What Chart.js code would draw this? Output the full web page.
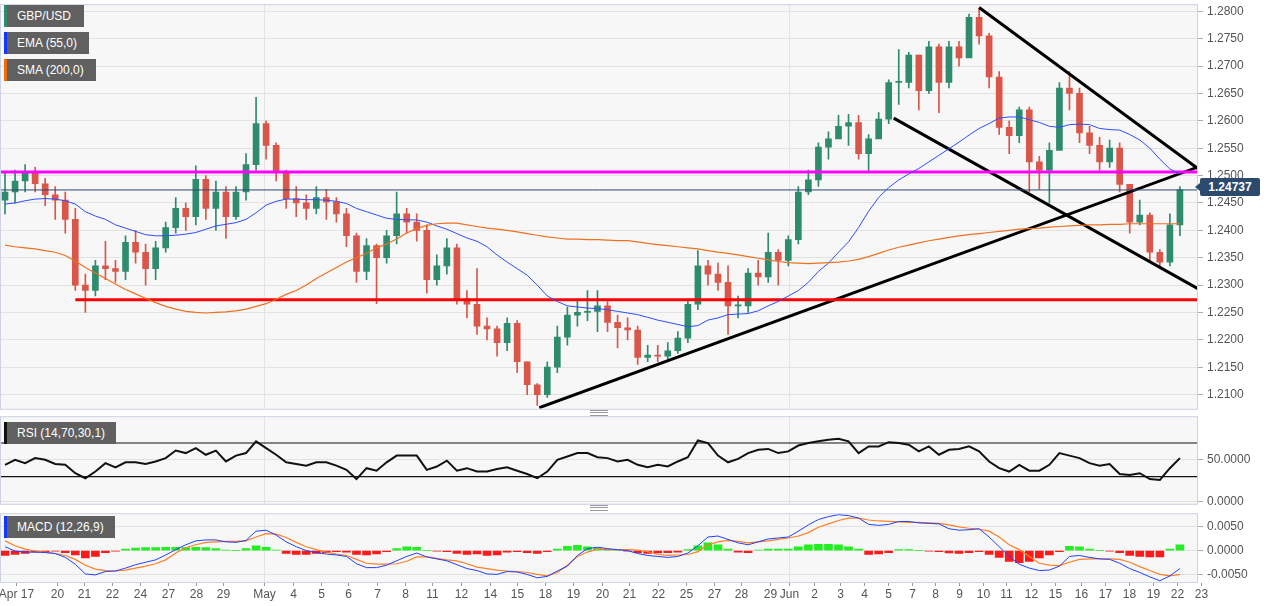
<!DOCTYPE html>
<html>
<head>
<meta charset="utf-8">
<script src="https://cdn.jsdelivr.net/npm/chart.js@4.4.1/dist/chart.umd.min.js"></script>
<style>
  body { margin: 0; background: #fff; font-family: "Liberation Sans", Arial, sans-serif; overflow: hidden; }
  .pane { position: absolute; left: 0; width: 1269px; }
  .tag { position: absolute; left: 4px; height: 22px; line-height: 22px; background: #606060; color: #fff;
         font-size: 12px; padding: 0 10px 0 13px; box-sizing: border-box; }
  .tag i { position: absolute; left: 0; top: 0; bottom: 0; width: 3px; }
  .price { position: absolute; left: 1200px; top: 178px; width: 60px; height: 18px; line-height: 18px;
           background: #2b4a6e; color: #fff; font-size: 12px; font-weight: bold; text-align: center; border-radius: 2px; }
  .price:before { content: ""; position: absolute; left: -5px; top: 5px; border: 4px solid transparent;
                  border-right: 5px solid #2b4a6e; border-left: 0; }
  .grip { position: absolute; left: 590px; width: 18px; height: 4px; border-top: 1px solid #999; border-bottom: 1px solid #999; }
  .grip:after { content: ""; position: absolute; left: 0; right: 0; top: 1px; border-top: 1px solid #999; }
</style>
</head>
<body>
<div class="pane" style="top:-7px;height:427px"><canvas id="main"></canvas></div>
<div class="pane" style="top:405px;height:110px"><canvas id="rsi"></canvas></div>
<div class="pane" style="top:502px;height:106px"><canvas id="macd"></canvas></div>

<div class="tag" style="top:5px;width:80px"><i style="background:#2e8b6e"></i>GBP/USD</div>
<div class="tag" style="top:32px;width:85px"><i style="background:#1238ff"></i>EMA (55,0)</div>
<div class="tag" style="top:59px;width:92px"><i style="background:#f06a10"></i>SMA (200,0)</div>
<div class="tag" style="top:422px;width:112px"><i style="background:#111"></i>RSI (14,70,30,1)</div>
<div class="tag" style="top:516px;width:111px"><i style="background:#1238ff"></i>MACD (12,26,9)</div>
<div class="price">1.24737</div>
<div class="grip" style="top:410px"></div>
<div class="grip" style="top:505px"></div>

<script>
// GBP/USD candles (each slot ~ one 10px column of the original 4h chart)
const closes = [
  1.2470,1.2490,1.2505,1.2485,1.2465,1.2455,1.2420,1.2300,1.2290,1.2335,
  1.2330,1.2325,1.2378,1.2360,1.2330,1.2368,1.2405,1.2440,1.2425,1.2493,
  1.2440,1.2470,1.2425,1.2470,1.2520,1.2595,1.2555,1.2505,1.2458,1.2450,
  1.2440,1.2460,1.2452,1.2430,1.2390,1.2325,1.2372,1.2350,1.2390,1.2430,
  1.2415,1.2400,1.2310,1.2335,1.2368,1.2275,1.2265,1.2225,1.2220,1.2195,
  1.2230,1.2160,1.2118,1.2100,1.2150,1.2205,1.2245,1.2250,1.2252,1.2262,
  1.2232,1.2222,1.2218,1.2168,1.2172,1.2170,1.2180,1.2203,1.2265,1.2335,
  1.2320,1.2305,1.2262,1.2262,1.2322,1.2315,1.2360,1.2345,1.2383,1.2470,
  1.2492,1.2552,1.2567,1.2590,1.2597,1.2540,1.2567,1.2603,1.2670,1.2670,
  1.2720,1.2655,1.2735,1.2670,1.2735,1.2715,1.2789,1.2755,1.2680,1.2588,
  1.2573,1.2620,1.2525,1.2510,1.2546,1.2660,1.2650,1.2578,1.2555,1.2525,
  1.2550,1.2484,1.2415,1.2428,1.2360,1.2342,1.2410,1.2474
];
const highs = [
  1.2505,1.2510,1.2520,1.2515,1.2495,1.2480,1.2470,1.2440,1.2320,1.2345,
  1.2380,1.2345,1.2390,1.2400,1.2375,1.2380,1.2415,1.2460,1.2450,1.2518,
  1.2500,1.2490,1.2480,1.2480,1.2540,1.2643,1.2600,1.2560,1.2510,1.2480,
  1.2465,1.2480,1.2475,1.2460,1.2440,1.2395,1.2385,1.2375,1.2400,1.2470,
  1.2440,1.2430,1.2410,1.2355,1.2385,1.2375,1.2290,1.2330,1.2240,1.2225,
  1.2240,1.2235,1.2160,1.2120,1.2160,1.2225,1.2260,1.2275,1.2290,1.2290,
  1.2270,1.2245,1.2240,1.2225,1.2190,1.2190,1.2195,1.2215,1.2275,1.2363,
  1.2345,1.2340,1.2335,1.2280,1.2330,1.2345,1.2395,1.2365,1.2390,1.2480,
  1.2510,1.2560,1.2580,1.2610,1.2612,1.2610,1.2575,1.2615,1.2675,1.2730,
  1.2725,1.2720,1.2745,1.2740,1.2745,1.2745,1.2795,1.2805,1.2760,1.2690,
  1.2600,1.2625,1.2625,1.2535,1.2560,1.2670,1.2690,1.2660,1.2590,1.2570,
  1.2565,1.2560,1.2480,1.2455,1.2432,1.2365,1.2430,1.2480
];
const lows = [
  1.2430,1.2450,1.2470,1.2470,1.2445,1.2420,1.2395,1.2290,1.2250,1.2280,
  1.2310,1.2305,1.2310,1.2340,1.2300,1.2310,1.2360,1.2395,1.2400,1.2410,
  1.2420,1.2400,1.2385,1.2420,1.2455,1.2510,1.2530,1.2490,1.2440,1.2425,
  1.2420,1.2430,1.2420,1.2415,1.2370,1.2305,1.2310,1.2266,1.2340,1.2375,
  1.2395,1.2380,1.2285,1.2300,1.2320,1.2265,1.2240,1.2210,1.2200,1.2170,
  1.2180,1.2140,1.2100,1.2080,1.2095,1.2140,1.2190,1.2225,1.2235,1.2215,
  1.2215,1.2185,1.2200,1.2155,1.2160,1.2160,1.2165,1.2175,1.2195,1.2255,
  1.2300,1.2290,1.2210,1.2240,1.2250,1.2300,1.2305,1.2300,1.2335,1.2375,
  1.2465,1.2480,1.2530,1.2570,1.2555,1.2530,1.2505,1.2580,1.2595,1.2630,
  1.2660,1.2620,1.2650,1.2615,1.2660,1.2700,1.2720,1.2740,1.2660,1.2575,
  1.2540,1.2560,1.2470,1.2475,1.2450,1.2555,1.2620,1.2560,1.2540,1.2510,
  1.2515,1.2470,1.2395,1.2410,1.2345,1.2335,1.2335,1.2390
];
const firstOpen = 1.2455;

const ema55 = [
  1.2448,1.2450,1.2454,1.2457,1.2458,1.2457,1.2454,1.2448,1.2434,1.2426,
  1.2420,1.2410,1.2404,1.2398,1.2392,1.2390,1.2390,1.2391,1.2393,1.2396,
  1.2402,1.2408,1.2411,1.2414,1.2420,1.2432,1.2446,1.2453,1.2457,1.2457,
  1.2456,1.2456,1.2455,1.2453,1.2449,1.2440,1.2434,1.2428,1.2422,1.2420,
  1.2419,1.2419,1.2415,1.2408,1.2402,1.2394,1.2386,1.2380,1.2370,1.2355,
  1.2342,1.2330,1.2318,1.2300,1.2280,1.2270,1.2262,1.2260,1.2258,1.2257,
  1.2255,1.2252,1.2249,1.2246,1.2241,1.2236,1.2232,1.2228,1.2224,1.2226,
  1.2236,1.2240,1.2246,1.2247,1.2248,1.2253,1.2262,1.2270,1.2280,1.2290,
  1.2305,1.2325,1.2340,1.2360,1.2379,1.2405,1.2435,1.2460,1.2478,1.2492,
  1.2503,1.2513,1.2525,1.2537,1.2549,1.2561,1.2574,1.2586,1.2595,1.2605,
  1.2607,1.2607,1.2602,1.2597,1.2590,1.2588,1.2593,1.2594,1.2593,1.2586,
  1.2584,1.2583,1.2575,1.2565,1.2550,1.2530,1.2512,1.2503
];
const sma200 = [
  1.2373,1.2370,1.2368,1.2366,1.2363,1.2360,1.2354,1.2344,1.2332,1.2322,
  1.2312,1.2302,1.2292,1.2284,1.2276,1.2268,1.2261,1.2256,1.2252,1.2250,
  1.2249,1.2250,1.2251,1.2253,1.2256,1.2261,1.2266,1.2274,1.2283,1.2290,
  1.2300,1.2312,1.2322,1.2332,1.2342,1.2350,1.2358,1.2368,1.2375,1.2384,
  1.2395,1.2403,1.2409,1.2412,1.2413,1.2413,1.2410,1.2407,1.2404,1.2402,
  1.2400,1.2397,1.2394,1.2391,1.2388,1.2386,1.2384,1.2384,1.2383,1.2383,
  1.2382,1.2381,1.2381,1.2379,1.2376,1.2374,1.2372,1.2370,1.2368,1.2366,
  1.2363,1.2360,1.2358,1.2355,1.2352,1.2349,1.2346,1.2343,1.2341,1.2340,
  1.2339,1.2340,1.2341,1.2342,1.2344,1.2347,1.2352,1.2358,1.2364,1.2369,
  1.2373,1.2377,1.2381,1.2384,1.2387,1.2390,1.2392,1.2394,1.2396,1.2398,
  1.2400,1.2402,1.2403,1.2404,1.2406,1.2407,1.2408,1.2409,1.2410,1.2410,
  1.2411,1.2411,1.2412,1.2412,1.2412,1.2412,1.2412,1.2412
];

const rsi = [
  44,50,46,52,50,45,44,34,28,36, 46,41,47,47,45,48,52,61,58,64,
  56,61,48,55,58,72,64,56,47,45, 43,47,47,43,38,27,40,37,47,55,
  55,55,38,42,49,37,40,36,36,39, 41,37,33,28,36,50,54,58,58,53,
  52,48,50,44,41,44,42,48,53,73, 70,55,47,51,58,62,63,58,60,67,
  70,72,74,75,72,58,66,66,71,70, 68,60,66,56,62,63,66,60,48,40,
  36,44,37,37,44,58,55,52,46,43, 45,33,32,34,27,26,40,52
];

const macdLine = [
  0.0008,-0.0001,-0.0003,-0.0003,-0.0004,-0.0006,-0.0014,-0.0028,-0.0048,-0.0050,
  -0.0043,-0.0042,-0.0036,-0.0029,-0.0024,-0.0019,-0.0009,0.0002,0.0012,0.0020,
  0.0022,0.0022,0.0018,0.0017,0.0021,0.0040,0.0042,0.0032,0.0018,0.0008,
  0.0000,-0.0004,-0.0007,-0.0009,-0.0012,-0.0027,-0.0035,-0.0035,-0.0030,-0.0021,
  -0.0012,-0.0005,-0.0013,-0.0017,-0.0021,-0.0029,-0.0037,-0.0041,-0.0048,-0.0049,
  -0.0043,-0.0044,-0.0049,-0.0056,-0.0053,-0.0042,-0.0032,-0.0010,0.0004,0.0007,
  0.0004,0.0002,0.0000,-0.0006,-0.0010,-0.0012,-0.0014,-0.0012,-0.0005,0.0010,
  0.0028,0.0030,0.0023,0.0016,0.0012,0.0018,0.0024,0.0026,0.0028,0.0040,
  0.0053,0.0064,0.0070,0.0074,0.0072,0.0067,0.0054,0.0052,0.0054,0.0060,
  0.0060,0.0057,0.0056,0.0055,0.0045,0.0042,0.0043,0.0045,0.0028,0.0008,
  -0.0012,-0.0028,-0.0036,-0.0041,-0.0040,-0.0032,-0.0012,-0.0010,-0.0014,-0.0017,
  -0.0018,-0.0026,-0.0037,-0.0045,-0.0054,-0.0062,-0.0052,-0.0037
];
const signalLine = [
  0.0020,0.0010,0.0003,-0.0001,-0.0003,-0.0006,-0.0010,-0.0018,-0.0030,-0.0038,
  -0.0041,-0.0042,-0.0040,-0.0036,-0.0032,-0.0027,-0.0019,-0.0005,0.0006,0.0012,
  0.0017,0.0018,0.0019,0.0019,0.0020,0.0028,0.0035,0.0034,0.0027,0.0017,
  0.0008,0.0002,-0.0003,-0.0007,-0.0010,-0.0018,-0.0026,-0.0028,-0.0028,-0.0027,
  -0.0022,-0.0013,-0.0013,-0.0016,-0.0019,-0.0021,-0.0027,-0.0034,-0.0037,-0.0040,
  -0.0042,-0.0043,-0.0045,-0.0049,-0.0052,-0.0045,-0.0030,-0.0012,-0.0003,0.0003,
  0.0002,0.0002,0.0002,0.0001,-0.0002,-0.0008,-0.0010,-0.0009,-0.0008,-0.0002,
  0.0012,0.0018,0.0021,0.0019,0.0016,0.0018,0.0020,0.0023,0.0026,0.0030,
  0.0037,0.0048,0.0055,0.0062,0.0067,0.0067,0.0063,0.0061,0.0060,0.0059,
  0.0058,0.0058,0.0057,0.0056,0.0053,0.0049,0.0046,0.0044,0.0040,0.0028,
  0.0012,0.0002,-0.0012,-0.0026,-0.0030,-0.0031,-0.0024,-0.0018,-0.0017,-0.0017,
  -0.0017,-0.0018,-0.0024,-0.0033,-0.0041,-0.0049,-0.0052,-0.0049
];
const macdHist = [
  -0.0010,-0.0008,-0.0006,-0.0003,-0.0002,-0.0001,-0.0004,-0.0009,-0.0015,-0.0012,
  -0.0004,-0.0001,0.0003,0.0005,0.0006,0.0006,0.0007,0.0007,0.0006,0.0007,
  0.0006,0.0004,0.0001,0.0000,0.0004,0.0010,0.0007,0.0001,-0.0006,-0.0008,
  -0.0008,-0.0006,-0.0004,-0.0002,-0.0003,-0.0008,-0.0009,-0.0007,-0.0002,0.0004,
  0.0008,0.0007,0.0000,-0.0001,-0.0002,-0.0006,-0.0008,-0.0007,-0.0010,-0.0009,
  -0.0003,-0.0002,-0.0004,-0.0006,-0.0002,0.0003,0.0009,0.0011,0.0008,0.0005,
  0.0003,0.0001,-0.0001,-0.0004,-0.0006,-0.0005,-0.0004,-0.0003,0.0002,0.0010,
  0.0016,0.0012,0.0003,-0.0003,-0.0004,0.0001,0.0003,0.0003,0.0003,0.0008,
  0.0012,0.0013,0.0013,0.0012,0.0008,0.0003,-0.0008,-0.0007,-0.0004,0.0002,
  0.0002,0.0000,-0.0001,-0.0002,-0.0005,-0.0006,-0.0004,-0.0002,-0.0008,-0.0014,
  -0.0022,-0.0025,-0.0022,-0.0015,-0.0009,-0.0002,0.0009,0.0008,0.0003,0.0000,
  -0.0001,-0.0004,-0.0010,-0.0012,-0.0013,-0.0013,0.0003,0.0012
];

// date ticks: slot position and text
const tickSlots = [1.1,5.2,7.9,10.7,13.4,16.2,19,21.7,25.8,28.7,31.5,34.2,37,39.8,42.5,45.4,48.3,51,53.8,56.6,59.4,62.1,
  65,67.8,70.6,73.3,76.2,78.1,80.6,83.1,85.5,87.9,90.3,92.6,95,97.4,99.7,102.2,104.6,107.1,109.5,111.9,114.3,116.7,119.1];
const tickLabels = ['Apr 17','20','21','22','24','27','28','29','May','4','5','6','7','8','11','12','14','15','18','19','20','21',
  '22','25','27','28','29','Jun','2','3','4','5','7','8','9','10','11','12','15','16','17','18','19','22','23'];
const monthSlots = [25.8, 78.1];

// drawn levels and trendlines (slot, price)
const lastPrice = 1.24737;
const magentaLevel = [[-0.5, 1.25065], [120, 1.25065]];
const redLevel = [[7.0, 1.2273], [120, 1.2273]];
const riseLine = [[53.2, 1.2076], [119.3, 1.2519]];
const upperFall = [[97.0, 1.2807], [119.3, 1.2506]];
const lowerFall = [[88.5, 1.2605], [119.3, 1.2288]];

const X_MIN = -0.5, X_MAX = 118.8;
const GREEN = '#2e8b6e', RED = '#d9574a';
const opens = [firstOpen, ...closes.slice(0, -1)];
const slots = closes.map((_, i) => i);
const pts = arr => arr.map((v, i) => ({ x: i, y: v }));
const seg = arr => arr.map(p => ({ x: p[0], y: p[1] }));
const up = i => closes[i] >= opens[i];

const panelBg = {
  id: 'panelBg',
  beforeDraw(chart) {
    const { ctx, chartArea: a } = chart;
    ctx.save();
    ctx.fillStyle = '#f7f7f7';
    ctx.fillRect(a.left, a.top, a.right - a.left, a.bottom - a.top);
    ctx.restore();
  },
  afterDraw(chart) {
    const { ctx, chartArea: a } = chart;
    ctx.save();
    ctx.strokeStyle = '#cdd3e3';
    ctx.lineWidth = 1;
    ctx.strokeRect(a.left + 0.5, a.top + 0.5, a.right - a.left - 1, a.bottom - a.top);
    ctx.restore();
  }
};

const dateAxis = {
  id: 'dateAxis',
  afterDraw(chart) {
    const { ctx, chartArea: a, scales } = chart;
    ctx.save();
    ctx.fillStyle = '#555';
    ctx.strokeStyle = '#999';
    ctx.font = '12px "Liberation Sans", Arial, sans-serif';
    ctx.textAlign = 'center';
    ctx.textBaseline = 'top';
    tickSlots.forEach((s, i) => {
      const x = Math.round(scales.x.getPixelForValue(s)) + 0.5;
      ctx.beginPath(); ctx.moveTo(x, a.bottom + 1); ctx.lineTo(x, a.bottom + 4); ctx.stroke();
      ctx.fillText(tickLabels[i], x, a.bottom + 7);
    });
    ctx.restore();
  }
};

function xScale() {
  return {
    type: 'linear', min: X_MIN, max: X_MAX, offset: false,
    afterBuildTicks: s => { s.ticks = monthSlots.map(v => ({ value: v })); },
    ticks: { display: false },
    grid: { color: '#e2e2e2', drawTicks: false, offset: false },
    border: { display: false },
  };
}
function yScale(min, max, ticks, fmt) {
  return {
    position: 'right', min, max,
    afterBuildTicks: s => { s.ticks = ticks.map(v => ({ value: v })); },
    afterFit: s => { s.width = 71; },
    ticks: { color: '#555', font: { size: 12, family: '"Liberation Sans", Arial' }, padding: 4, callback: fmt },
    grid: { color: '#e2e2e2', tickLength: 5, tickColor: '#aaa' },
    border: { display: false },
  };
}
const common = {
  responsive: true, maintainAspectRatio: false, animation: false,
  plugins: { legend: { display: false }, tooltip: { enabled: false } },
};
const flatLine = (data, color, width) => ({
  type: 'line', data, borderColor: color, borderWidth: width, pointRadius: 0, tension: 0, order: 0,
});

// main price pane
const priceTicks = [];
for (let k = 0; k <= 14; k++) priceTicks.push(+(1.21 + k * 0.005).toFixed(3));
new Chart(document.getElementById('main'), {
  type: 'bar',
  data: {
    datasets: [
      flatLine(pts(sma200), '#f07020', 1.2),
      flatLine(pts(ema55), '#2f4dff', 1),
      flatLine(seg(magentaLevel), '#ff00ff', 3),
      flatLine(seg(redLevel), '#ff0000', 3),
      flatLine([{ x: X_MIN, y: lastPrice }, { x: 120, y: lastPrice }], '#2b4a6e', 1),
      flatLine(seg(riseLine), '#000', 3),
      flatLine(seg(upperFall), '#000', 3),
      flatLine(seg(lowerFall), '#000', 3),
      {
        data: slots.map(i => ({ x: i, y: [lows[i], highs[i]] })),
        backgroundColor: c => up(c.dataIndex) ? GREEN : RED,
        barThickness: 1, grouped: false, order: 2,
      },
      {
        data: slots.map(i => ({ x: i, y: [opens[i], closes[i] === opens[i] ? closes[i] + 0.0002 : closes[i]] })),
        backgroundColor: c => up(c.dataIndex) ? GREEN : RED,
        barThickness: 6, grouped: false, order: 1,
      },
    ],
  },
  options: {
    ...common,
    layout: { padding: { top: 2, bottom: 3, left: 0, right: 0 } },
    scales: {
      x: xScale(),
      y: yScale(1.2074, 1.2813, priceTicks, v => v.toFixed(4)),
    },
  },
  plugins: [panelBg],
});

// RSI pane
new Chart(document.getElementById('rsi'), {
  type: 'line',
  data: {
    datasets: [
      flatLine(pts(rsi), '#111', 2),
      flatLine([{ x: X_MIN, y: 70 }, { x: X_MAX, y: 70 }], '#111', 1.2),
      flatLine([{ x: X_MIN, y: 30 }, { x: X_MAX, y: 30 }], '#111', 1.2),
    ],
  },
  options: {
    ...common,
    layout: { padding: { top: 7, bottom: 4 } },
    scales: {
      x: xScale(),
      y: yScale(-2.5, 102, [0, 50], v => v.toFixed(4)),
    },
  },
  plugins: [panelBg],
});

// MACD pane
new Chart(document.getElementById('macd'), {
  type: 'bar',
  data: {
    datasets: [
      flatLine(pts(macdLine), '#2040ff', 1),
      flatLine(pts(signalLine), '#ff7f27', 1.2),
      {
        data: pts(macdHist),
        backgroundColor: c => macdHist[c.dataIndex] >= 0 ? '#22ee22' : '#ff1a1a',
        barThickness: 8, grouped: false, order: 1,
      },
    ],
  },
  options: {
    ...common,
    layout: { padding: { top: 6, bottom: 26 } },
    scales: {
      x: xScale(),
      y: yScale(-0.00646, 0.0077, [-0.005, 0, 0.005], v => v.toFixed(4)),
    },
  },
  plugins: [panelBg, dateAxis],
});
</script>
</body>
</html>
